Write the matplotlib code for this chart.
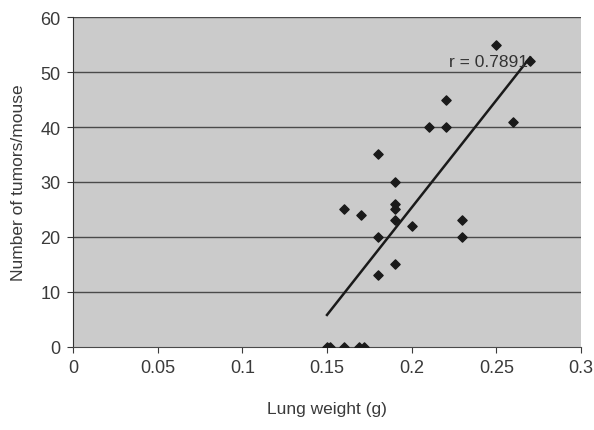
import numpy as np
import matplotlib
matplotlib.use('Agg')
import matplotlib.pyplot as plt

plt.rcParams['font.family'] = ['Liberation Sans', 'DejaVu Sans']

# lung weight (g) and number of tumors per mouse
peso = [0.25, 0.27, 0.22, 0.21, 0.22, 0.26, 0.18, 0.19, 0.16, 0.17,
        0.19, 0.19, 0.19, 0.20, 0.18, 0.19, 0.18, 0.23, 0.23,
        0.150, 0.152, 0.160, 0.169, 0.172]
tumores = [55, 52, 45, 40, 40, 41, 35, 30, 25, 24,
           26, 25, 23, 22, 20, 15, 13, 23, 20,
           0, 0, 0, 0, 0]
x_ticks = [0, 0.05, 0.1, 0.15, 0.2, 0.25, 0.3]
y_ticks = [0, 10, 20, 30, 40, 50, 60]
r_label = 'r = 0.7891'

x = np.array(peso)
y = np.array(tumores)
a, b = np.polyfit(x, y, 1)
xl = np.array([x.min(), x.max()])

fig = plt.figure(figsize=(5.94, 4.31), dpi=100)
ax = fig.add_axes([0.123, 0.193, 0.855, 0.765])
ax.set_facecolor('#cbcbcb')

for v in y_ticks[1:]:
    ax.axhline(v, color='#4a4a4a', lw=1.0, zorder=1)

ax.plot(xl, a * xl + b, color='#1a1a1a', lw=1.8, zorder=2)
ax.scatter(x, y, marker='D', s=22, color='#1a1a1a', zorder=3)
ax.text(0.2685, 52, r_label, ha='right', va='center', fontsize=12.5, color='#333333', zorder=4)

ax.set_xlim(0, 0.3)
ax.set_ylim(0, 60)
ax.set_xticks(x_ticks)
ax.set_xticklabels(['0', '0.05', '0.1', '0.15', '0.2', '0.25', '0.3'])
ax.set_yticks(y_ticks)

for s in ['top', 'right']:
    ax.spines[s].set_visible(False)
ax.spines['left'].set_color('#333333')
ax.spines['bottom'].set_color('#4a4a4a')
ax.tick_params(axis='both', labelsize=13, colors='#3a3a3a', length=4, pad=5)

ax.set_xlabel('Lung weight (g)', fontsize=12.5, color='#3a3a3a', labelpad=18)
ax.set_ylabel('Number of tumors/mouse', fontsize=12.5, color='#3a3a3a', labelpad=10)

fig.savefig('out.png', dpi=100)
